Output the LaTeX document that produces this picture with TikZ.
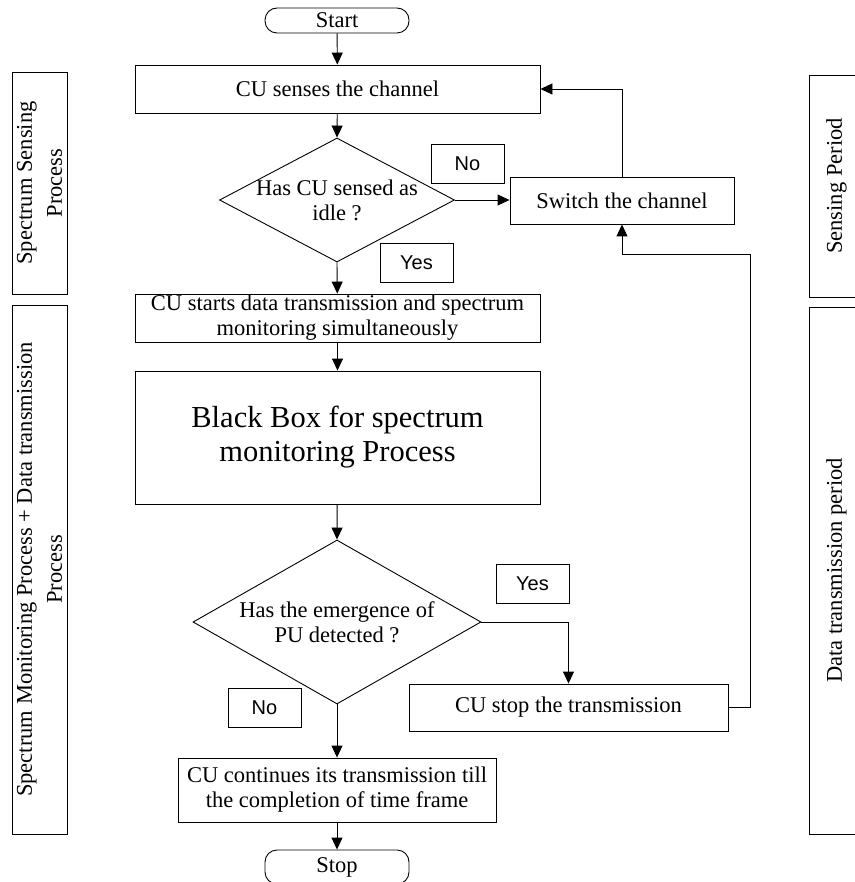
\documentclass[tikz,border=0pt]{standalone}
\usepackage{fontspec}
\setmainfont{Liberation Serif}
\newfontfamily\tagfont{Liberation Sans}
\usetikzlibrary{arrows.meta,shapes.geometric}

\begin{document}
\begin{tikzpicture}[x=1pt,y=-1pt,
    every node/.style={font=\fontsize{22.5}{25}\selectfont},
    box/.style={draw, line width=0.9pt, inner sep=0pt, align=center},
    term/.style={box, rounded corners=12pt, minimum width=144pt},
    decision/.style={draw, line width=0.9pt, diamond, inner sep=0pt},
    answer/.style={box, font=\tagfont\fontsize{20}{22}\selectfont, minimum width=73pt, minimum height=39pt},
    phase/.style={box, rotate=90, minimum height=55pt, font=\fontsize{22.5}{30}\selectfont},
    arr/.style={line width=0.9pt, -{Triangle[length=12pt,width=11pt]}},
    link/.style={line width=0.9pt}]
  \useasboundingbox (0,0) rectangle (854,882);

  % side bars
  \node[phase, minimum width=222pt] (senseproc) at (39.5,183) {Spectrum Sensing\\Process};
  \node[phase, minimum width=529pt] (monproc) at (39.5,569.5) {Spectrum Monitoring Process + Data transmission\\Process};
  \node[phase, minimum width=222pt] (senseper) at (836.5,186) {Sensing Period};
  \node[phase, minimum width=527pt] (dataper) at (836.5,570.5) {Data transmission period};

  % flow
  \node[term, minimum height=25pt] (start) at (337,20.5) {Start};
  \node[box, minimum width=405pt, minimum height=48pt] (sense) at (337.5,89) {CU senses the channel};
  \node[decision, minimum width=235pt, minimum height=124pt] (idle) at (337,200) {};
  \node[align=center] (idletxt) at (idle) {Has CU sensed as\\idle ?};
  \node[box, minimum width=224pt, minimum height=47pt] (switch) at (622,200.5) {Switch the channel};
  \node[box, minimum width=405pt, minimum height=48pt] (begin) at (337.5,318) {CU starts data transmission and spectrum\\monitoring simultaneously};
  \node[box, minimum width=405pt, minimum height=133pt, font=\fontsize{30.5}{34}\selectfont] (blackbox) at (337.5,437.5) {Black Box for spectrum\\monitoring Process};
  \node[decision, minimum width=288pt, minimum height=164pt] (pu) at (337,622) {};
  \node[align=center] (putxt) at (pu) {Has the emergence of\\PU detected ?};
  \node[box, minimum width=319pt, minimum height=47pt] (halt) at (568.5,707.5) {CU stop the transmission};
  \node[box, minimum width=318pt, minimum height=64pt] (goon) at (337,790) {CU continues its transmission till\\the completion of time frame};
  \node[term, minimum height=34pt] (stop) at (337,867) {Stop};

  % answers
  \node[answer] (no1) at (467.5,163.5) {No};
  \node[answer] (yes1) at (416.5,262.5) {Yes};
  \node[answer] (yes2) at (532.5,584) {Yes};
  \node[answer] (no2) at (264.5,707.5) {No};

  \coordinate (back) at (750,254);

  \draw[arr] (start) -- (sense);
  \draw[arr] (sense) -- (idle.north);
  \draw[arr] (idle.east) -- (idle.east -| switch.west);
  \draw[arr] (switch.north) |- (sense.east);
  \draw[arr] (idle.south) -- (begin);
  \draw[arr] (begin) -- (blackbox);
  \draw[arr] (blackbox) -- (pu.north);
  \draw[arr] (pu.east) -| (halt.north);
  \draw[link] (halt.east) -| (back);
  \draw[arr] (back) -| (switch.south);
  \draw[arr] (pu.south) -- (goon);
  \draw[arr] (goon) -- (stop);
\end{tikzpicture}
\end{document}
